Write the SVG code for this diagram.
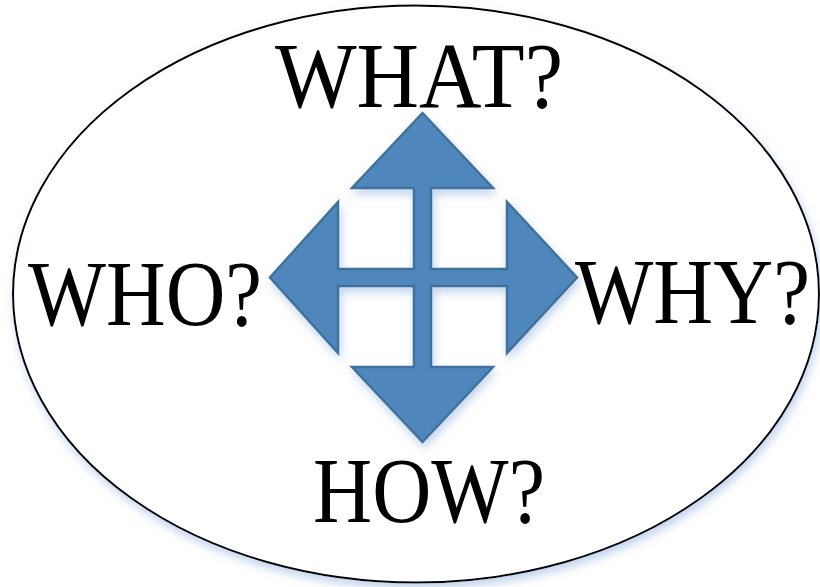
<svg xmlns="http://www.w3.org/2000/svg" width="820" height="587" viewBox="0 0 820 587">
  <style>
    .lbl { font-family: "Liberation Serif", "Times New Roman", serif; font-size: 94px; fill: #000; }
  </style>
  <defs>
    <filter id="glow" x="-10%" y="-10%" width="120%" height="125%">
      <feGaussianBlur in="SourceAlpha" stdDeviation="5" result="b"/>
      <feOffset in="b" dx="2" dy="5" result="o"/>
      <feFlood flood-color="#8FB0DC" flood-opacity="0.55"/>
      <feComposite in2="o" operator="in" result="s"/>
      <feMerge><feMergeNode in="s"/><feMergeNode in="SourceGraphic"/></feMerge>
    </filter>
  </defs>
  <rect width="820" height="587" fill="#ffffff"/>
  <g id="ellipse" filter="url(#glow)">
    <ellipse cx="416" cy="294" rx="403" ry="288.5" fill="#ffffff" stroke="#000000" stroke-width="2"/>
  </g>
  <g id="connectors" filter="url(#glow)">
    <path d="M422.5,113 L493,188 L431,188 L431,269 L507,269 L507,202 L577,277.5 L507,353 L507,286 L431,286 L431,367 L493,367 L422.5,442 L352,367 L414,367 L414,286 L338,286 L338,353 L270,277.5 L338,202 L338,269 L414,269 L414,188 L352,188 Z" fill="#4F87BC" stroke="#41719C" stroke-width="2.5" stroke-linejoin="miter"/>
  </g>
  <g id="what"><text class="lbl" x="275" y="107" textLength="288" lengthAdjust="spacingAndGlyphs">WHAT?</text></g>
  <g id="who"><text class="lbl" x="28" y="325" textLength="234" lengthAdjust="spacingAndGlyphs">WHO?</text></g>
  <g id="why"><text class="lbl" x="575" y="323" textLength="235" lengthAdjust="spacingAndGlyphs">WHY?</text></g>
  <g id="how"><text class="lbl" x="313" y="522" textLength="232" lengthAdjust="spacingAndGlyphs">HOW?</text></g>
</svg>
